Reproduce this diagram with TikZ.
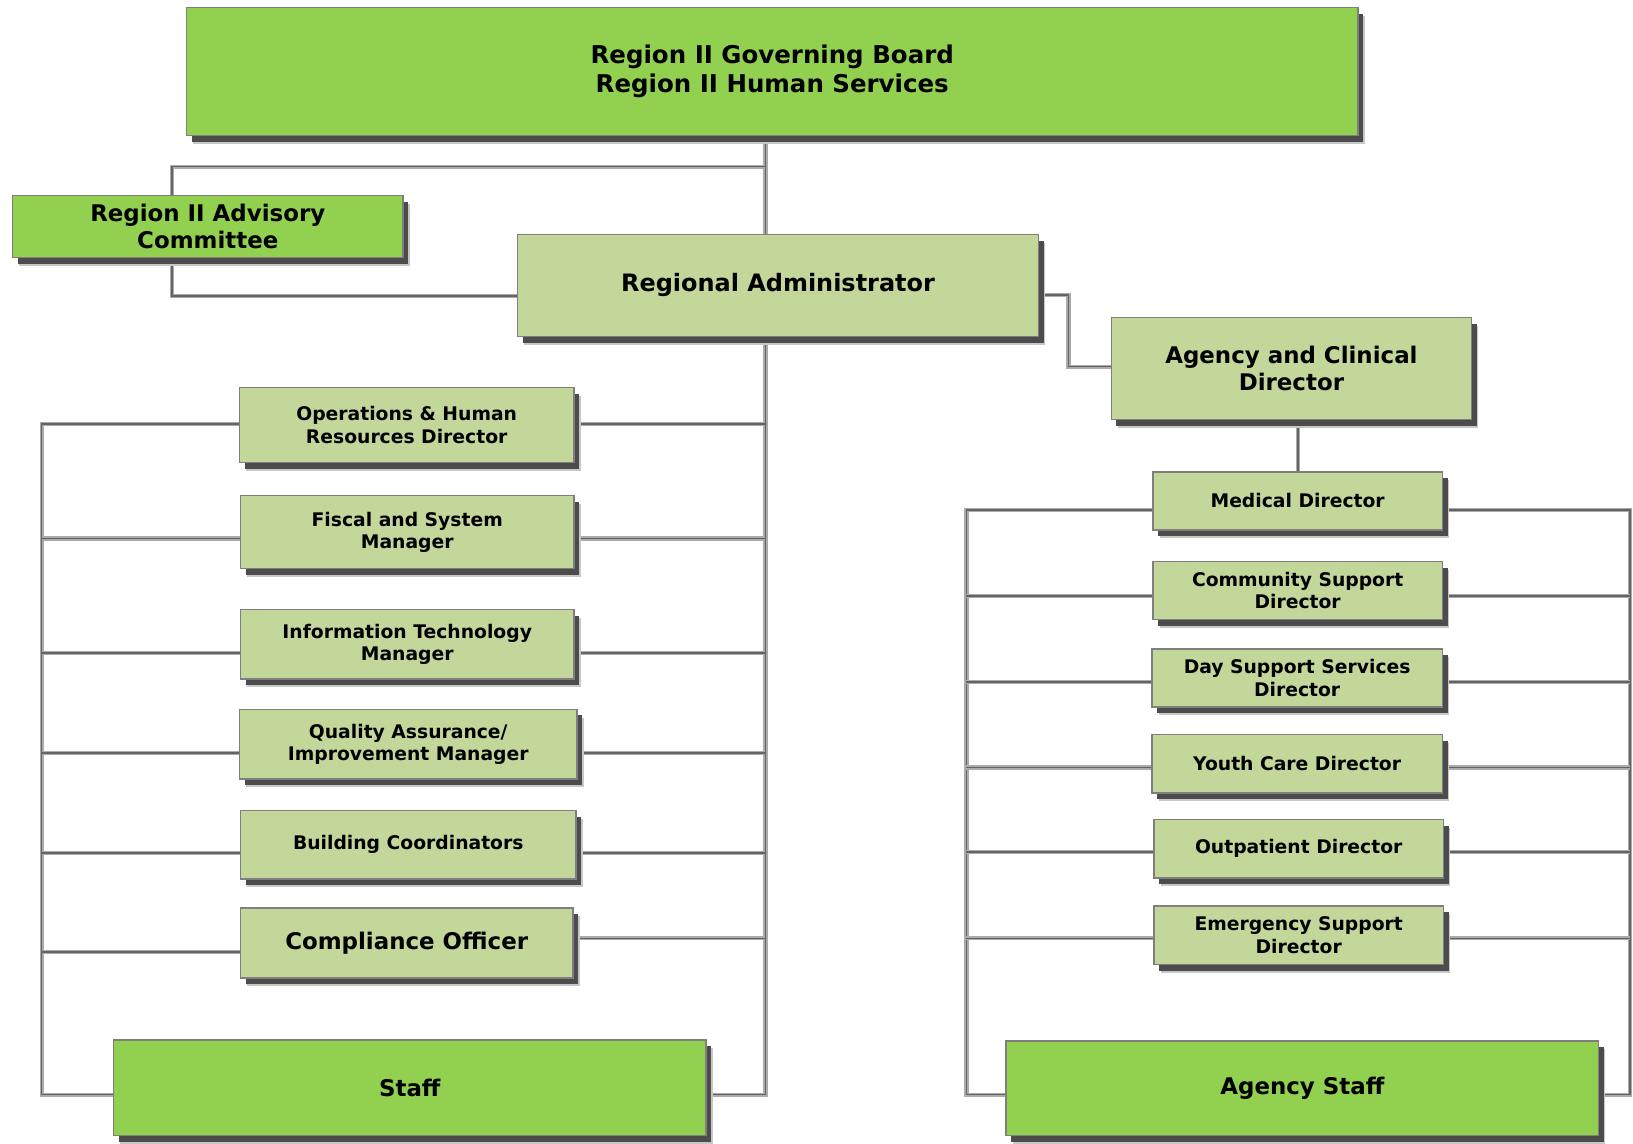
\documentclass[tikz,border=0pt]{standalone}
\usepackage{fontspec}
\setmainfont{DejaVu Sans}
\usetikzlibrary{shadows,backgrounds}
\definecolor{bright}{HTML}{92D050}
\definecolor{pale}{HTML}{C4D79B}
\definecolor{edge}{HTML}{7F7F7F}
\definecolor{pipe}{HTML}{ABABAB}
\definecolor{pipein}{HTML}{646464}
\tikzset{
  box/.style={draw=edge, line width=1.4pt, inner sep=0pt, align=center, text=black,
    drop shadow={shadow xshift=6.5pt, shadow yshift=-8pt, fill=black!22, opacity=1},
    drop shadow={shadow xshift=5pt, shadow yshift=-6pt, fill=black!70, opacity=1}},
  gbox/.style={box, fill=bright},
  pbox/.style={box, fill=pale},
  bigtxt/.style={font={\fontsize{22}{26}\selectfont\bfseries}},
  ratxt/.style={font={\fontsize{23}{27}\selectfont\bfseries}},
  toptxt/.style={font={\fontsize{23.5}{28}\selectfont\bfseries}},
  smalltxt/.style={font={\fontsize{18}{21.5}\selectfont\bfseries}},
  conn/.style={draw=pipe, line width=1.2pt, double=pipein, double distance=1.6pt, line join=miter}
}
\begin{document}
\begin{tikzpicture}[x=1pt, y=-1pt]
\useasboundingbox (0,0) rectangle (1568,1098);

% bus coordinates
\coordinate (cx) at (735,0);
\coordinate (lx) at (40,0);
\coordinate (advx) at (165,0);
\coordinate (elx) at (1026,0);
\coordinate (rlx) at (928,0);
\coordinate (rrx) at (1565,0);

% nodes
\node[gbox, toptxt, minimum width=1125pt, minimum height=123pt] (top) at (741.5,68.5)
  {Region II Governing Board\\Region II Human Services};
\node[gbox, bigtxt, minimum width=375pt, minimum height=60pt] (adv) at (199.5,217.5)
  {Region II Advisory\\Committee};
\node[pbox, ratxt, minimum width=500pt, minimum height=98pt] (ra) at (747,274)
  {Regional Administrator};
\node[pbox, bigtxt, minimum width=346pt, minimum height=98pt] (acd) at (1240,354)
  {Agency and Clinical\\Director};

\node[pbox, smalltxt, minimum width=321pt, minimum height=72pt] (ops) at (390.5,408)
  {Operations \& Human\\Resources Director};
\node[pbox, smalltxt, minimum width=320pt, minimum height=70pt] (fis) at (391,511)
  {Fiscal and System\\Manager};
\node[pbox, smalltxt, minimum width=320pt, minimum height=67pt] (it) at (391,618.5)
  {Information Technology\\Manager};
\node[pbox, smalltxt, minimum width=324pt, minimum height=67pt] (qa) at (392,714.5)
  {Quality Assurance/\\Improvement Manager};
\node[pbox, smalltxt, minimum width=322pt, minimum height=66pt] (bld) at (392,811)
  {Building Coordinators};
\node[pbox, bigtxt, minimum width=319pt, minimum height=67pt] (comp) at (390.5,905.5)
  {Compliance Officer};
\node[gbox, bigtxt, minimum width=569pt, minimum height=92pt] (staff) at (393.5,1044.5)
  {Staff};

\node[pbox, smalltxt, minimum width=278pt, minimum height=56pt] (med) at (1246,481)
  {Medical Director};
\node[pbox, smalltxt, minimum width=278pt, minimum height=56pt] (comm) at (1246,567)
  {Community Support\\Director};
\node[pbox, smalltxt, minimum width=279pt, minimum height=56pt] (day) at (1245.5,651)
  {Day Support Services\\Director};
\node[pbox, smalltxt, minimum width=279pt, minimum height=56pt] (youth) at (1245.5,733.5)
  {Youth Care Director};
\node[pbox, smalltxt, minimum width=278pt, minimum height=56pt] (outp) at (1247,815)
  {Outpatient Director};
\node[pbox, smalltxt, minimum width=278pt, minimum height=56pt] (emer) at (1247,898)
  {Emergency Support\\Director};
\node[gbox, bigtxt, minimum width=569pt, minimum height=91pt] (astaff) at (1250.5,1045)
  {Agency Staff};

\begin{scope}[on background layer]
% centre trunk
\draw[conn] (top.south -| cx) -- (cx |- 0,1051) -- (staff.east |- 0,1051);
% advisory committee loop
\draw[conn] (cx |- 0,160) -- (advx |- 0,160) -- (advx |- 0,284) -- (ra.west |- 0,284);
% administrator to agency director
\draw[conn] (ra.east |- 0,283) -- (elx |- 0,283) -- (elx |- 0,352) -- (acd.west |- 0,352);
% agency director to medical director
\draw[conn] (med.north) -- (med.north |- acd.south);

% left column, left bus
\draw[conn] (ops.west |- 0,407) -- (lx |- 0,407) -- (lx |- 0,1051) -- (staff.west |- 0,1051);
\draw[conn] (lx |- 0,517) -- (fis.west |- 0,517);
\draw[conn] (lx |- 0,627) -- (it.west |- 0,627);
\draw[conn] (lx |- 0,723) -- (qa.west |- 0,723);
\draw[conn] (lx |- 0,819) -- (bld.west |- 0,819);
\draw[conn] (lx |- 0,914) -- (comp.west |- 0,914);
% left column, right side to trunk
\draw[conn] (ops.east |- 0,407) -- (cx |- 0,407);
\draw[conn] (fis.east |- 0,517) -- (cx |- 0,517);
\draw[conn] (it.east |- 0,627) -- (cx |- 0,627);
\draw[conn] (qa.east |- 0,723) -- (cx |- 0,723);
\draw[conn] (bld.east |- 0,819) -- (cx |- 0,819);
\draw[conn] (comp.east |- 0,901) -- (cx |- 0,901);

% right column, left bus
\draw[conn] (med.west |- 0,490) -- (rlx |- 0,490) -- (rlx |- 0,1051) -- (astaff.west |- 0,1051);
\draw[conn] (rlx |- 0,572) -- (comm.west |- 0,572);
\draw[conn] (rlx |- 0,655) -- (day.west |- 0,655);
\draw[conn] (rlx |- 0,737) -- (youth.west |- 0,737);
\draw[conn] (rlx |- 0,818) -- (outp.west |- 0,818);
\draw[conn] (rlx |- 0,901) -- (emer.west |- 0,901);
% right column, right bus
\draw[conn] (med.east |- 0,490) -- (rrx |- 0,490) -- (rrx |- 0,1051) -- (astaff.east |- 0,1051);
\draw[conn] (comm.east |- 0,572) -- (rrx |- 0,572);
\draw[conn] (day.east |- 0,655) -- (rrx |- 0,655);
\draw[conn] (youth.east |- 0,737) -- (rrx |- 0,737);
\draw[conn] (outp.east |- 0,818) -- (rrx |- 0,818);
\draw[conn] (emer.east |- 0,901) -- (rrx |- 0,901);
\end{scope}
\end{tikzpicture}
\end{document}
